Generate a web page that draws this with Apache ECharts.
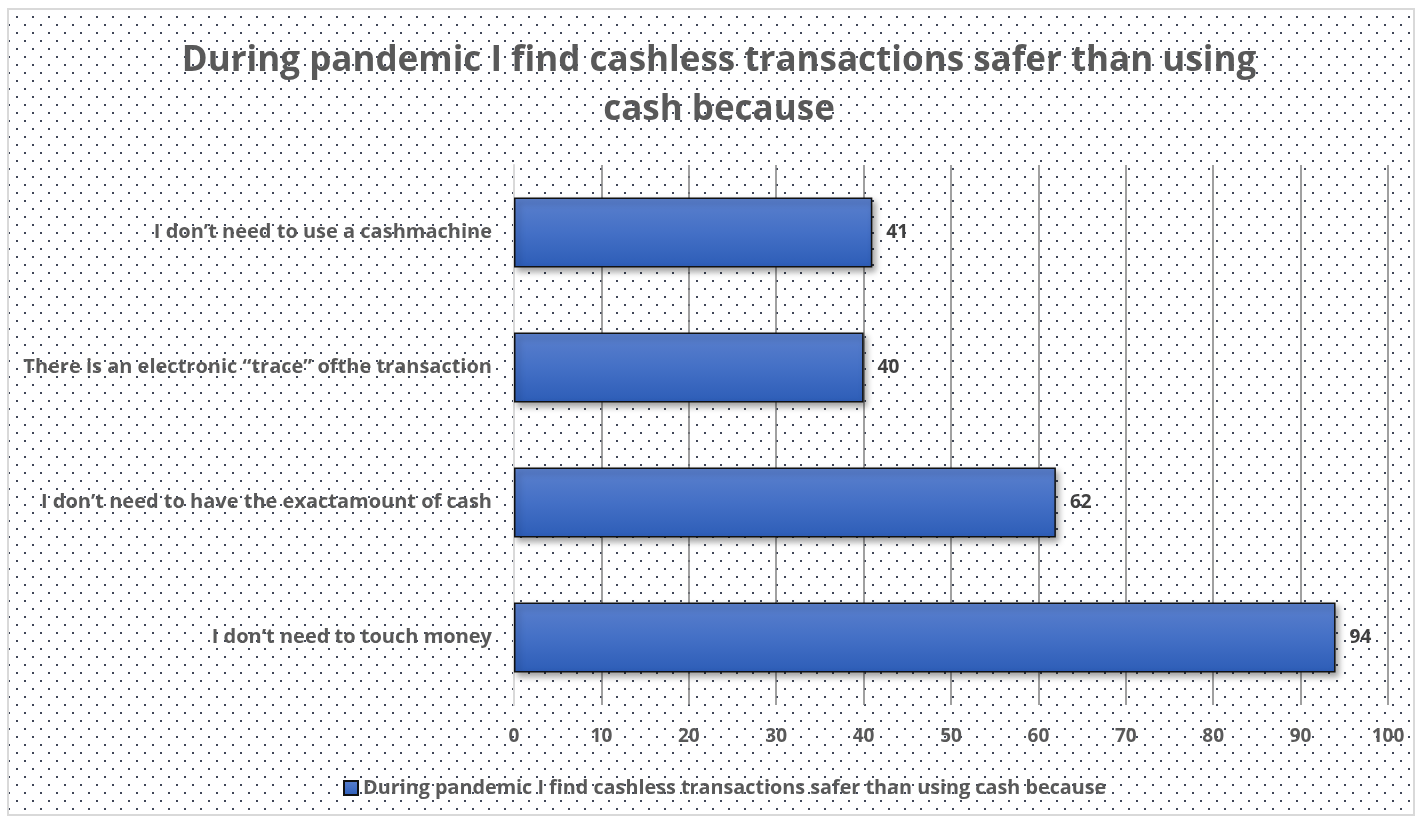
<!DOCTYPE html>
<html>
<head>
<meta charset="utf-8">
<script src="https://cdn.jsdelivr.net/npm/echarts@6/dist/echarts.min.js"></script>
<style>html,body{margin:0;padding:0;background:#fff;}#c{width:1421px;height:822px;}</style>
</head>
<body>
<div id="c"></div>
<script>
const titleText = 'During pandemic I find cashless transactions safer than using\ncash because';
const seriesName = 'During pandemic I find cashless transactions safer than using cash because';
const categories = [
  'I don’t need to touch money',
  'I don’t need to have the exactamount of cash',
  'There is an electronic “trace” ofthe transaction',
  'I don’t need to use a cashmachine'
];
const values = [94, 62, 40, 41];
const xTicks = [0, 10, 20, 30, 40, 50, 60, 70, 80, 90, 100];

const FONT = 'Open Sans';
const pc = document.createElement('canvas');
pc.width = 16; pc.height = 16;
const pctx = pc.getContext('2d');
pctx.fillStyle = '#3f4657';
pctx.fillRect(0, 0, 2, 2);
pctx.fillRect(8, 8, 2, 2);

const chart = echarts.init(document.getElementById('c'), null, {renderer: 'canvas'});
chart.setOption({
  backgroundColor: '#ffffff',
  animation: false,
  graphic: [
    {type: 'rect', z: -10, silent: true, shape: {x: 8, y: 9, width: 1406, height: 806},
     style: {fill: {image: pc, repeat: 'repeat'}, stroke: '#d9d9d9', lineWidth: 2}}
  ],
  title: {
    text: titleText, left: 714, textAlign: 'center', top: 32,
    textStyle: {fontFamily: FONT, fontSize: 35, fontWeight: 'bold', color: '#595959', lineHeight: 49, align: 'center'}
  },
  legend: {
    bottom: 19, left: 338,
    itemWidth: 14, itemHeight: 14, itemGap: 5,
    data: [{name: seriesName, icon: 'rect'}],
    textStyle: {fontFamily: FONT, fontSize: 19.8, fontWeight: 'bold', color: '#595959'}
  },
  grid: {left: 514, right: 33, top: 165, bottom: 117, containLabel: false},
  xAxis: {
    type: 'value', min: 0, max: 100, interval: 10,
    axisLine: {show: false}, axisTick: {show: false},
    splitLine: {show: true, lineStyle: {color: '#808080', width: 1.5}},
    axisLabel: {margin: 22, fontFamily: FONT, fontSize: 19, fontWeight: 'bold', color: '#595959',
      formatter: v => xTicks.includes(v) ? String(v) : ''}
  },
  yAxis: {
    type: 'category', data: categories,
    axisLine: {show: true, lineStyle: {color: '#d9d9d9', width: 2}},
    axisTick: {show: false},
    axisLabel: {margin: 22, fontFamily: FONT, fontSize: 20, fontWeight: 'bold', color: '#595959'}
  },
  series: [{
    name: seriesName, type: 'bar', data: values, barWidth: 70,
    itemStyle: {
      color: new echarts.graphic.LinearGradient(0, 0, 0, 1, [
        {offset: 0, color: '#5b80cd'}, {offset: 0.5, color: '#4470c6'}, {offset: 1, color: '#2d5db7'}]),
      borderColor: '#111111', borderWidth: 1.5,
      shadowBlur: 6, shadowOffsetX: 3, shadowOffsetY: 4, shadowColor: 'rgba(0,0,0,0.35)'
    },
    label: {show: true, position: 'right', distance: 14, fontFamily: FONT, fontSize: 19, fontWeight: 'bold', color: '#404040'}
  }]
});
</script>
</body>
</html>
